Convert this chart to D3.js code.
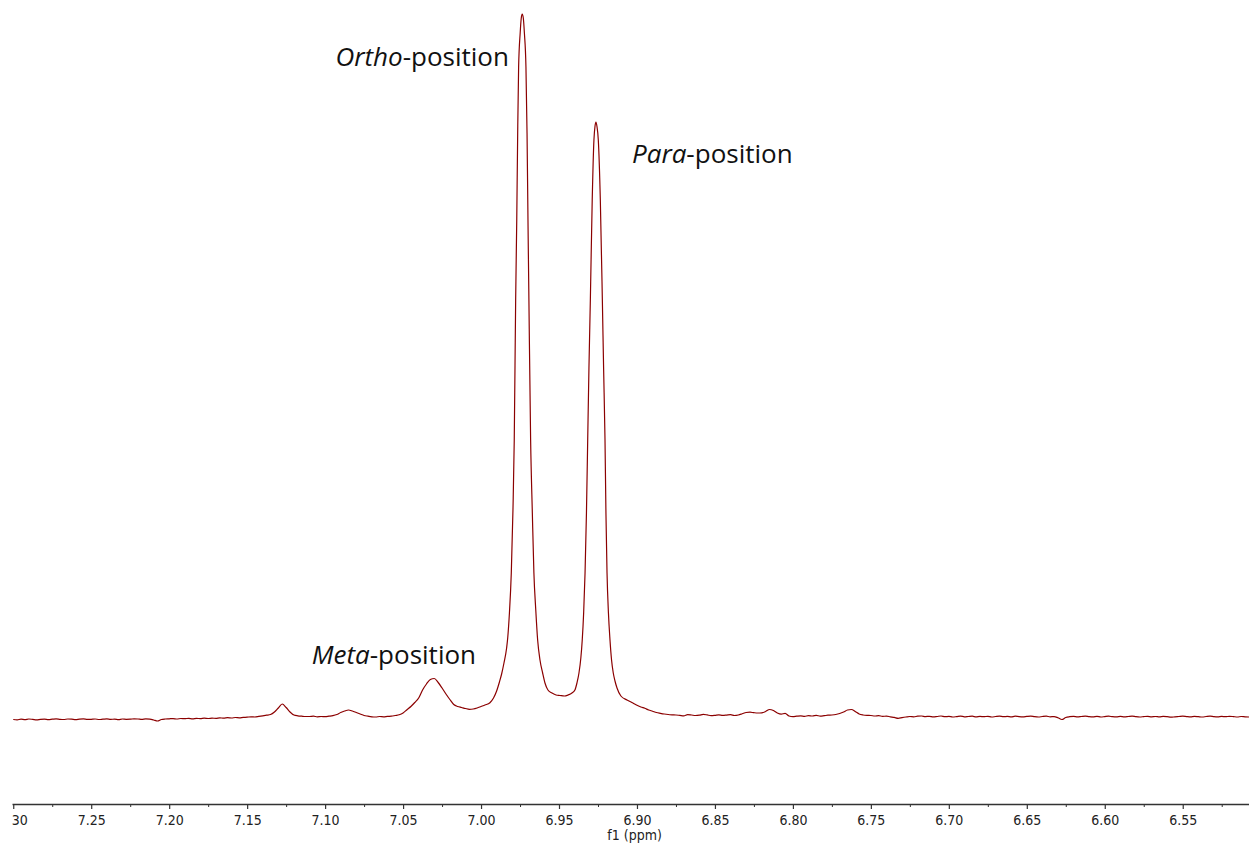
<!DOCTYPE html>
<html>
<head>
<meta charset="utf-8">
<script src="https://cdn.jsdelivr.net/npm/d3@7"></script>
<style>
  html, body { margin: 0; padding: 0; background: #fff; }
  svg { display: block; }
  .tick text { font-family: "DejaVu Sans Condensed", "DejaVu Sans", sans-serif; font-size: 14px; fill: #222; }
  .axis path, .axis line { stroke: #333; }
  .peak-label { font-family: "Open Sans", "Noto Sans", sans-serif; font-size: 26px; fill: #111; }
</style>
</head>
<body>
<div id="chart"></div>
<script>
// spectrum, part A: regular grid 7.300 -> 7.000 ppm, step 0.0025
var gridAStart = 7.300, gridStep = 0.0025;
var gridA = [
  -1.5,-1.8,-1.2,-1.6,-1.0,-1.4,-1.9,-1.3,-1.1,-1.6,
  -1.2,-0.8,-1.3,-1.5,-1.0,-1.2,-1.6,-1.1,-0.9,-1.4,
  -1.3,-1.0,-1.5,-1.2,-0.9,-1.4,-1.1,-1.6,-1.0,-1.3,
  -1.2,-0.8,-1.0,-1.4,-0.9,-1.2,-2.0,-3.0,-1.5,-1.0,
  -0.8,-0.6,-1.0,-0.5,-0.7,-0.3,-0.8,-0.4,-0.6,-0.2,
  -0.5,-0.1,-0.4,0.2,-0.2,0.3,0.0,0.5,0.2,0.6,
  0.8,1.2,1.0,1.6,2.2,2.8,3.5,6.0,10.0,14.0,
  10.5,6.0,3.0,2.2,1.8,1.5,1.5,1.8,1.2,1.5,
  1.3,1.8,2.4,3.5,5.5,7.0,8.0,7.0,5.5,4.0,
  2.5,1.8,1.2,1.0,1.5,1.2,1.6,1.8,2.5,3.2,
  5.0,8.3,11.5,15.5,20.0,28.0,34.0,38.5,39.5,35.5,
  30.0,24.0,18.5,13.5,11.5,10.5,9.5,8.7,9.0,10.0,
  11.5
];

// part B: ortho and para peaks, read point by point
var peakPpm = [
  6.9975, 6.9943, 6.9920, 6.9900, 6.9882, 6.9868, 6.9853, 6.9836, 6.9829, 6.9818,
  6.9806, 6.9795, 6.9787, 6.9778, 6.9771, 6.9765, 6.9759, 6.9749, 6.9742, 6.9736,
  6.9729, 6.9722, 6.9712, 6.9705, 6.9699, 6.9693, 6.9682, 6.9671, 6.9661, 6.9649,
  6.9637, 6.9622, 6.9605, 6.9590, 6.9571, 6.9545, 6.9519, 6.9494, 6.9466, 6.9442,
  6.9417, 6.9398, 6.9385, 6.9372, 6.9360, 6.9351, 6.9342, 6.9333, 6.9324, 6.9316,
  6.9308, 6.9299, 6.9287, 6.9276, 6.9269, 6.9263, 6.9257, 6.9248, 6.9235, 6.9222,
  6.9214, 6.9205, 6.9199, 6.9192, 6.9183, 6.9173, 6.9163, 6.9152, 6.9141, 6.9128,
  6.9103, 6.9064, 6.9026
];
var peakInt = [
  13.0, 15.3, 20.0, 27.0, 36.0, 44.0, 55.0, 70.0, 80.0, 105.0,
  145.0, 210.0, 278.0, 418.0, 498.0, 585.0, 651.0, 685.0, 700.0, 704.0,
  700.0, 685.0, 651.0, 585.0, 498.0, 418.0, 278.0, 205.0, 145.0, 108.0,
  78.0, 58.0, 45.0, 35.0, 28.0, 25.0, 23.0, 22.5, 22.0, 23.0,
  25.0, 28.0, 35.0, 45.0, 60.0, 78.0, 105.0, 145.0, 205.0, 278.0,
  350.0, 418.0, 518.0, 578.0, 592.0, 596.0, 592.0, 578.0, 518.0, 418.0,
  350.0, 278.0, 205.0, 145.0, 105.0, 78.0, 58.0, 45.0, 37.0, 30.0,
  22.0, 18.0, 15.0
];

// part C: regular grid 6.900 -> 6.5075 ppm, step 0.0025
var gridCStart = 6.900;
var gridC = [
  12.8,11.0,9.7,8.0,6.8,5.5,4.7,4.0,3.5,3.2,
  3.0,2.6,2.2,3.4,3.0,2.5,2.8,3.6,3.1,2.4,
  2.7,3.2,2.6,2.9,3.3,2.5,3.0,4.2,5.5,5.8,
  5.3,5.0,5.2,6.5,8.5,7.5,5.0,3.8,4.6,2.0,
  1.3,1.8,2.2,1.6,2.4,2.0,2.6,1.9,2.3,2.8,
  3.0,3.5,4.5,6.0,8.0,8.5,6.5,4.0,3.0,2.6,
  2.5,2.0,2.4,1.6,1.9,1.2,0.6,-0.3,0.4,1.0,
  1.5,1.2,1.8,2.0,1.4,1.7,1.1,1.5,2.0,1.3,
  1.6,1.0,1.4,1.9,1.2,1.5,1.8,1.1,1.6,1.3,
  1.7,1.0,1.5,1.9,1.3,1.6,1.1,1.8,1.4,1.2,
  1.6,1.9,1.3,1.0,1.5,1.8,1.2,1.4,0.2,-1.5,
  0.5,1.3,1.7,1.1,1.5,1.9,1.4,1.2,1.6,1.0,
  1.4,1.8,1.3,1.1,1.6,1.2,1.5,1.9,1.3,1.0,
  1.4,1.7,1.2,1.5,1.1,1.6,1.3,0.8,1.2,1.5,
  1.8,1.4,1.1,1.6,1.3,1.0,1.5,1.9,1.4,1.2,
  1.6,1.3,1.7,1.4,1.0,1.5,1.2,1.0
];

var majorTicks = [7.30, 7.25, 7.20, 7.15, 7.10, 7.05, 7.00, 6.95, 6.90, 6.85, 6.80, 6.75, 6.70, 6.65, 6.60, 6.55];
var minorTicks = [7.275, 7.225, 7.175, 7.125, 7.075, 7.025, 6.975, 6.925, 6.875, 6.825, 6.775, 6.725, 6.675, 6.625, 6.575, 6.525];

var labelNames = ["Ortho", "Para", "Meta"];
var labelPpm = [6.9821, 6.9032, 7.0032];
var labelInt = [652, 555, 54];
var labelAnchor = ["end", "start", "end"];

var W = 1249, H = 848;

var spectrum = [];
gridA.forEach(function(v, i){ spectrum.push({ppm: gridAStart - i * gridStep, v: v}); });
peakPpm.forEach(function(p, i){ spectrum.push({ppm: p, v: peakInt[i]}); });
gridC.forEach(function(v, i){ spectrum.push({ppm: gridCStart - i * gridStep, v: v}); });
spectrum.sort(function(a, b){ return b.ppm - a.ppm; });

var x = d3.scaleLinear().domain([7.3008, 6.5075]).range([12, 1249]);
var y = d3.scaleLinear().domain([0, 704]).range([718, 14]);

var svg = d3.select("#chart").append("svg")
    .attr("width", W)
    .attr("height", H);

svg.append("defs").append("clipPath").attr("id", "axclip")
  .append("rect").attr("x", 12).attr("y", 790).attr("width", W - 12).attr("height", 58);

var line = d3.line()
    .x(function(d){ return x(d.ppm); })
    .y(function(d){ return y(d.v); })
    .curve(d3.curveMonotoneX);

svg.append("path")
    .datum(spectrum)
    .attr("d", line)
    .attr("fill", "none")
    .attr("stroke", "#8b0000")
    .attr("stroke-width", 1.2)
    .attr("stroke-linejoin", "round");

// axis: minor ticks first, then labelled major ticks
var axisG = svg.append("g").attr("clip-path", "url(#axclip)");

axisG.append("g")
    .attr("class", "axis")
    .attr("transform", "translate(0,804)")
    .call(d3.axisBottom(x).tickValues(minorTicks).tickSize(3).tickFormat(""))
    .call(function(g){ g.select(".domain").remove(); });

axisG.append("g")
    .attr("class", "axis")
    .attr("transform", "translate(0,804)")
    .call(d3.axisBottom(x).tickValues(majorTicks).tickSize(5).tickSizeOuter(0).tickPadding(6).tickFormat(d3.format(".2f")))
    .call(function(g){
      g.select(".domain").attr("stroke-width", 1.4);
      g.selectAll(".tick line").attr("stroke-width", 1.2);
    });

svg.append("text")
    .attr("x", x(6.9015))
    .attr("y", 840)
    .attr("text-anchor", "middle")
    .style("font-family", "'DejaVu Sans Condensed', 'DejaVu Sans', sans-serif")
    .style("font-size", "14px")
    .style("fill", "#222")
    .text("f1 (ppm)");

// peak annotations
labelNames.forEach(function(name, i){
  var t = svg.append("text")
      .attr("class", "peak-label")
      .attr("x", x(labelPpm[i]))
      .attr("y", y(labelInt[i]))
      .attr("text-anchor", labelAnchor[i]);
  t.append("tspan").style("font-style", "italic").text(name);
  t.append("tspan").text("-position");
});
</script>
</body>
</html>
